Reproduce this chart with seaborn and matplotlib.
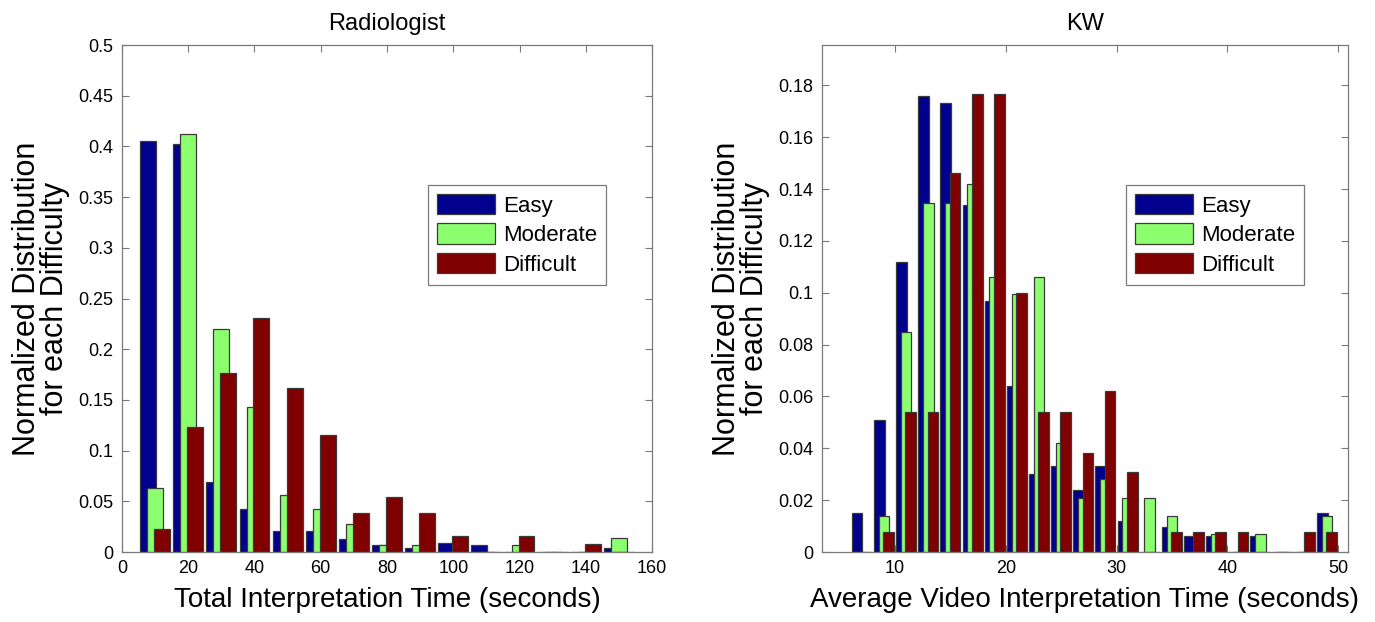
import numpy as np
import pandas as pd
import matplotlib
matplotlib.use("Agg")
import matplotlib.pyplot as plt
from matplotlib.patches import Patch
import seaborn as sns

# ---------------- data ----------------
series_names = ["Easy", "Moderate", "Difficult"]
series_colors = ["#00008F", "#8CFF6E", "#800000"]

# Left panel: Radiologist, total interpretation time
rad_centers = [10, 20, 30, 40, 50, 60, 70, 80, 90, 100, 110, 120, 130, 140, 150]
rad_easy = [0.405, 0.402, 0.069, 0.042, 0.021, 0.021, 0.0125, 0.007, 0.0035,
            0.009, 0.007, 0.0, 0.0, 0.0, 0.0035]
rad_moderate = [0.063, 0.412, 0.220, 0.143, 0.056, 0.042, 0.028, 0.007, 0.007,
                0.0, 0.0, 0.007, 0.0, 0.0, 0.014]
rad_difficult = [0.023, 0.123, 0.177, 0.231, 0.162, 0.115, 0.0385, 0.0538, 0.0385,
                 0.0154, 0.0, 0.0154, 0.0, 0.0077, 0.0]

# Right panel: KW, average video interpretation time
kw_centers = [7, 9, 11, 13, 15, 17, 19, 21, 23, 25, 27, 29, 31, 33, 35, 37, 39,
              41, 43, 45, 47, 49]
kw_easy = [0.015, 0.051, 0.112, 0.176, 0.173, 0.134, 0.097, 0.064, 0.030, 0.033,
           0.024, 0.033, 0.012, 0.0, 0.0095, 0.006, 0.006, 0.0, 0.006, 0.0, 0.0, 0.015]
kw_moderate = [0.0, 0.014, 0.085, 0.1345, 0.1345, 0.142, 0.106, 0.0995, 0.106, 0.042,
               0.021, 0.028, 0.021, 0.021, 0.014, 0.0, 0.007, 0.0, 0.007, 0.0, 0.0, 0.014]
kw_difficult = [0.0, 0.0077, 0.054, 0.054, 0.146, 0.1765, 0.1765, 0.100, 0.054, 0.054,
                0.038, 0.062, 0.031, 0.0, 0.0077, 0.0077, 0.0077, 0.0077, 0.0, 0.0,
                0.0077, 0.0077]

rad_xticks = [0, 20, 40, 60, 80, 100, 120, 140, 160]
rad_yticks = [0, 0.05, 0.1, 0.15, 0.2, 0.25, 0.3, 0.35, 0.4, 0.45, 0.5]
rad_yticklabels = ["0", "0.05", "0.1", "0.15", "0.2", "0.25", "0.3", "0.35", "0.4", "0.45", "0.5"]
kw_xticks = [10, 20, 30, 40, 50]
kw_yticks = [0, 0.02, 0.04, 0.06, 0.08, 0.1, 0.12, 0.14, 0.16, 0.18]
kw_yticklabels = ["0", "0.02", "0.04", "0.06", "0.08", "0.1", "0.12", "0.14", "0.16", "0.18"]

# ---------------- style ----------------
sns.set_theme(style="white")
plt.rcParams["font.family"] = ["Liberation Sans", "DejaVu Sans"]
plt.rcParams["text.color"] = "black"
plt.rcParams["axes.labelcolor"] = "black"
plt.rcParams["xtick.color"] = "black"
plt.rcParams["ytick.color"] = "black"

EDGE = "#3a3a3a"
BAR_W = 0.48      # relative to bin spacing
SHIFT = 0.21      # offset of each series, relative to bin spacing
AX_COL = "#7a7a7a"

fig = plt.figure(figsize=(13.75, 6.22), dpi=100)
ax1 = fig.add_axes([0.0887, 0.1125, 0.3855, 0.815])
ax2 = fig.add_axes([0.5978, 0.1125, 0.3825, 0.815])


def draw_panel(ax, centers, spacing, values_list):
    centers = np.asarray(centers, dtype=float)
    for k, (name, vals, col) in enumerate(zip(series_names, values_list, series_colors)):
        df = pd.DataFrame({"x": centers + (k - 1) * SHIFT * spacing, "y": vals})
        sns.barplot(data=df, x="x", y="y", native_scale=True, width=BAR_W,
                    color=col, saturation=1, edgecolor=EDGE, linewidth=0.9,
                    errorbar=None, ax=ax)


def style_axes(ax, title, xlabel, xticks, yticks, yticklabels, xlim, ylim):
    ax.set_xlim(*xlim)
    ax.set_ylim(*ylim)
    ax.set_xticks(xticks)
    ax.set_xticklabels([str(t) for t in xticks])
    ax.set_yticks(yticks)
    ax.set_yticklabels(yticklabels)
    ax.tick_params(direction="in", length=5, width=0.8, top=True, right=True,
                   bottom=True, left=True, color=AX_COL, labelcolor="black",
                   labelsize=13, pad=6)
    for s in ax.spines.values():
        s.set_color(AX_COL)
        s.set_linewidth(0.9)
        s.set_visible(True)
    ax.set_title(title, fontsize=17, pad=11, color="black")
    ax.set_xlabel(xlabel, fontsize=20, labelpad=7, color="black")
    ax.set_ylabel("Normalized Distribution\nfor each Difficulty", fontsize=22,
                  labelpad=6, linespacing=0.9, color="black")
    handles = [Patch(facecolor=c, edgecolor=EDGE, linewidth=0.9, label=n)
               for n, c in zip(series_names, series_colors)]
    leg = ax.legend(handles=handles, loc="upper left", bbox_to_anchor=(0.578, 0.724),
                    fontsize=16, frameon=True, fancybox=False, framealpha=1,
                    edgecolor=AX_COL, handlelength=2.6, handleheight=1.04,
                    borderpad=0.4, labelspacing=0.3, handletextpad=0.37,
                    borderaxespad=0)
    leg.get_frame().set_linewidth(0.9)
    for t in leg.get_texts():
        t.set_color("black")


draw_panel(ax1, rad_centers, 10, [rad_easy, rad_moderate, rad_difficult])
style_axes(ax1, "Radiologist", "Total Interpretation Time (seconds)",
           rad_xticks, rad_yticks, rad_yticklabels, (0, 160), (0, 0.5))

draw_panel(ax2, kw_centers, 2, [kw_easy, kw_moderate, kw_difficult])
style_axes(ax2, "KW", "Average Video Interpretation Time (seconds)",
           kw_xticks, kw_yticks, kw_yticklabels, (3.4, 50.9), (0, 0.1955))

fig.savefig("out.png", dpi=100, facecolor="white")
